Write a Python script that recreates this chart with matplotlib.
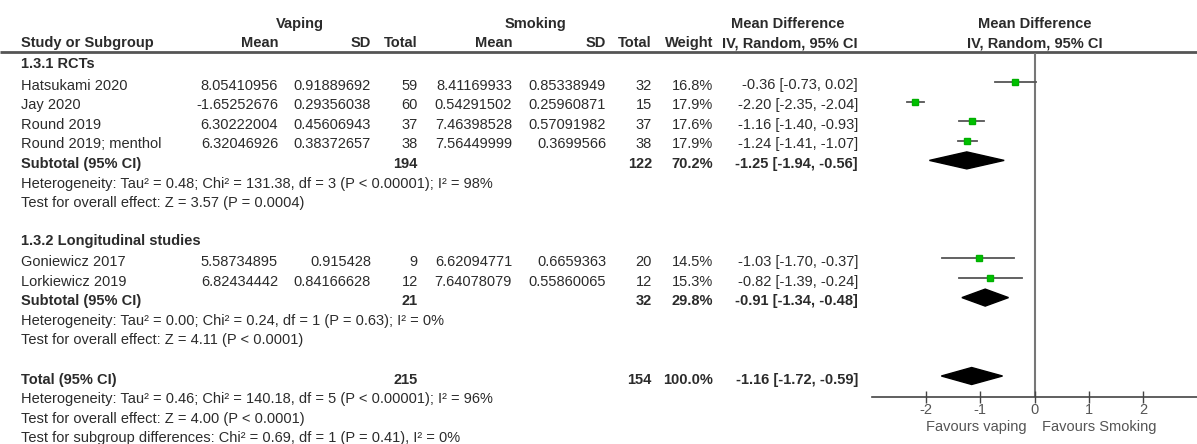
import matplotlib.pyplot as plt
import numpy as np

plt.rcParams['font.family'] = ['Liberation Sans', 'DejaVu Sans']

# Data
studies = ['Hatsukami 2020', 'Jay 2020', 'Round 2019', 'Round 2019; menthol',
           'Goniewicz 2017', 'Lorkiewicz 2019']
study_rows = [1, 2, 3, 4, 10, 11]
vape_mean = ['8.05410956', '-1.65252676', '6.30222004', '6.32046926', '5.58734895', '6.82434442']
vape_sd = ['0.91889692', '0.29356038', '0.45606943', '0.38372657', '0.915428', '0.84166628']
vape_n = [59, 60, 37, 38, 9, 12]
smoke_mean = ['8.41169933', '0.54291502', '7.46398528', '7.56449999', '6.62094771', '7.64078079']
smoke_sd = ['0.85338949', '0.25960871', '0.57091982', '0.3699566', '0.6659363', '0.55860065']
smoke_n = [32, 15, 37, 38, 20, 12]
weight = [16.8, 17.9, 17.6, 17.9, 14.5, 15.3]
md = [-0.36, -2.20, -1.16, -1.24, -1.03, -0.82]
md_lo = [-0.73, -2.35, -1.40, -1.41, -1.70, -1.39]
md_hi = [0.02, -2.04, -0.93, -1.07, -0.37, -0.24]

groups = ['1.3.1 RCTs', '1.3.2 Longitudinal studies']
group_rows = [0, 9]
sub_rows = [5, 12]
sub_vape_n = [194, 21]
sub_smoke_n = [122, 32]
sub_weight = [70.2, 29.8]
sub_md = [-1.25, -0.91]
sub_lo = [-1.94, -1.34]
sub_hi = [-0.56, -0.48]
sub_het = ['Heterogeneity: Tau² = 0.48; Chi² = 131.38, df = 3 (P < 0.00001); I² = 98%',
           'Heterogeneity: Tau² = 0.00; Chi² = 0.24, df = 1 (P = 0.63); I² = 0%']
sub_test = ['Test for overall effect: Z = 3.57 (P = 0.0004)',
            'Test for overall effect: Z = 4.11 (P < 0.0001)']

total_row = 16
total_vape_n, total_smoke_n = 215, 154
total_md, total_lo, total_hi = -1.16, -1.72, -0.59
total_notes = ['Heterogeneity: Tau² = 0.46; Chi² = 140.18, df = 5 (P < 0.00001); I² = 96%',
               'Test for overall effect: Z = 4.00 (P < 0.0001)',
               'Test for subgroup differences: Chi² = 0.69, df = 1 (P = 0.41), I² = 0%']

ticks = [-2, -1, 0, 1, 2]

W, H = 1197, 444
fig = plt.figure(figsize=(W / 100, H / 100), dpi=100)
fs = 10.5
tc = '#2b2b2b'


def ry(r):
    return 62.4 + 19.6 * r


def ty(r):
    return ry(r) + 3.5


tab = fig.add_axes([0, 0, 1, 1])
tab.set_xlim(0, W)
tab.set_ylim(H, 0)
tab.axis('off')

fx0, fx1 = 872, 1197
fax = fig.add_axes([fx0 / W, 0, (fx1 - fx0) / W, 1])
fax.set_xlim(-3, 3)
fax.set_ylim(H, 0)
fax.patch.set_visible(False)

# column positions (right edges) and header
cols = dict(name=21, vm=278, vs=371, vn=418, sm=512, ss=606, sn=652, w=713, ci=858)


def put(x, y, s, ha='right', bold=False, ax=tab, color=tc):
    ax.text(x, y, s, ha=ha, va='center', fontsize=fs, color=color,
            fontweight='bold' if bold else 'normal')


put(300, 24, 'Vaping', ha='center', bold=True)
put(535, 24, 'Smoking', ha='center', bold=True)
put(788, 24, 'Mean Difference', ha='center', bold=True)
put(cols['name'], 43, 'Study or Subgroup', ha='left', bold=True)
for k, s in [('vm', 'Mean'), ('vs', 'SD'), ('vn', 'Total'), ('sm', 'Mean'),
             ('ss', 'SD'), ('sn', 'Total'), ('w', 'Weight'), ('ci', 'IV, Random, 95% CI')]:
    put(cols[k], 43, s, bold=True)
put(0, 24, 'Mean Difference', ha='center', bold=True, ax=fax)
put(0, 43, 'IV, Random, 95% CI', ha='center', bold=True, ax=fax)

tab.hlines(52.5, 0, W, color='#555555', lw=2)


def ci_text(m, lo, hi):
    return f'{m:.2f} [{lo:.2f}, {hi:.2f}]'


for i, s in enumerate(studies):
    y = ty(study_rows[i])
    put(cols['name'], y, s, ha='left')
    put(cols['vm'], y, vape_mean[i])
    put(cols['vs'], y, vape_sd[i])
    put(cols['vn'], y, str(vape_n[i]))
    put(cols['sm'], y, smoke_mean[i])
    put(cols['ss'], y, smoke_sd[i])
    put(cols['sn'], y, str(smoke_n[i]))
    put(cols['w'], y, f'{weight[i]:.1f}%')
    put(cols['ci'], y, ci_text(md[i], md_lo[i], md_hi[i]))
    yr = ry(study_rows[i])
    fax.plot([md_lo[i], md_hi[i]], [yr, yr], color='#555555', lw=1.3, zorder=2)
    fax.plot(md[i], yr, 's', color='#00c000', ms=np.sqrt(weight[i]) * 0.95,
             mec='#00b000', zorder=3)


def diamond(m, lo, hi, yr):
    h = 8.5
    fax.fill([lo, m, hi, m], [yr, yr - h, yr, yr + h], color='black', zorder=3)


for g in range(len(groups)):
    put(cols['name'], ty(group_rows[g]) - 1.5, groups[g], ha='left', bold=True)
    r = sub_rows[g]
    put(cols['name'], ty(r), 'Subtotal (95% CI)', ha='left', bold=True)
    put(cols['vn'], ty(r), str(sub_vape_n[g]), bold=True)
    put(cols['sn'], ty(r), str(sub_smoke_n[g]), bold=True)
    put(cols['w'], ty(r), f'{sub_weight[g]:.1f}%', bold=True)
    put(cols['ci'], ty(r), ci_text(sub_md[g], sub_lo[g], sub_hi[g]), bold=True)
    put(cols['name'], ty(r + 1), sub_het[g], ha='left')
    put(cols['name'], ty(r + 2), sub_test[g], ha='left')
    diamond(sub_md[g], sub_lo[g], sub_hi[g], ry(r))

r = total_row
put(cols['name'], ty(r), 'Total (95% CI)', ha='left', bold=True)
put(cols['vn'], ty(r), str(total_vape_n), bold=True)
put(cols['sn'], ty(r), str(total_smoke_n), bold=True)
put(cols['w'], ty(r), '100.0%', bold=True)
put(cols['ci'], ty(r), ci_text(total_md, total_lo, total_hi), bold=True)
for k, s in enumerate(total_notes):
    put(cols['name'], ty(r + 1 + k), s, ha='left')
diamond(total_md, total_lo, total_hi, ry(r))

# axis
axis_y = 397
fax.vlines(0, 53, axis_y, color='#777777', lw=1.5, zorder=1)
for sp in ['top', 'left', 'right']:
    fax.spines[sp].set_visible(False)
fax.spines['bottom'].set_position(('data', axis_y))
fax.spines['bottom'].set_color('#444444')
fax.spines['bottom'].set_linewidth(1.2)
fax.set_yticks([])
fax.set_xticks(ticks)
fax.set_xticklabels([str(t) for t in ticks])
fax.tick_params(axis='x', direction='inout', length=8, width=1, colors='#444444',
                labelsize=fs, labelcolor='#555555', pad=0)
fax.text(-0.15, 427, 'Favours vaping', ha='right', va='center', fontsize=fs, color='#555555')
fax.text(0.13, 427, 'Favours Smoking', ha='left', va='center', fontsize=fs, color='#555555')

fig.savefig('out.png', dpi=100)
